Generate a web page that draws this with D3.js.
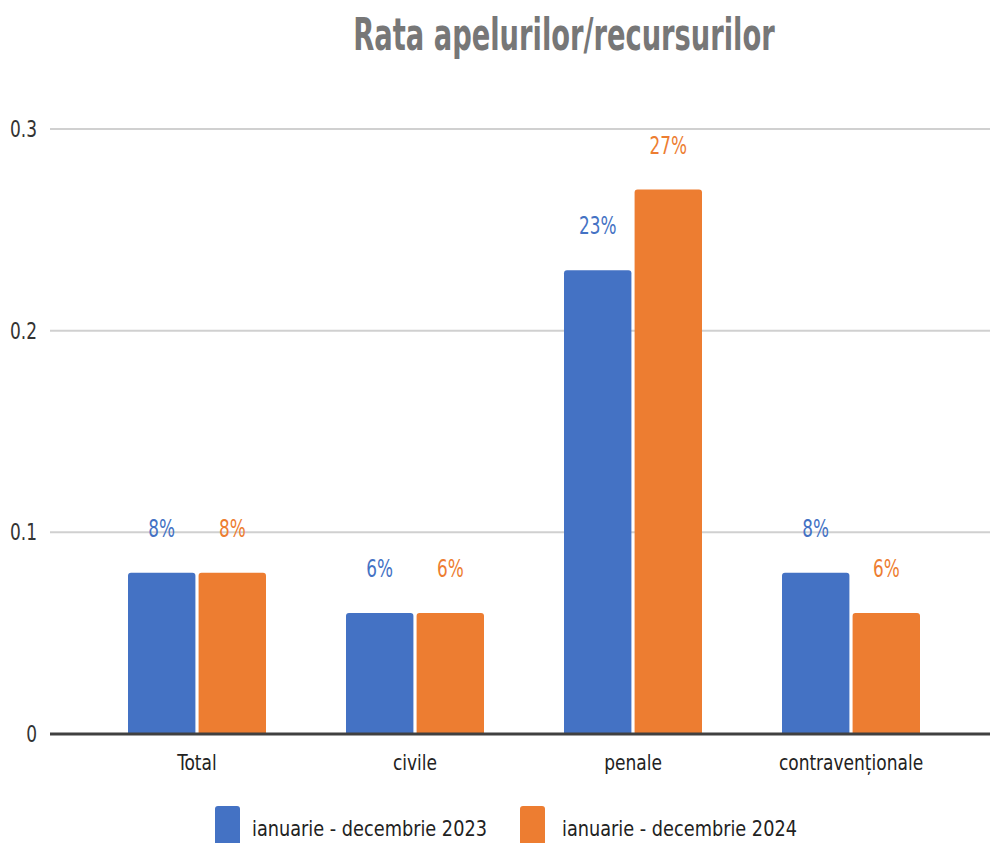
<!DOCTYPE html>
<html>
  <head>
    <title>Rata apelurilor/recursurilor</title>
    <script src="https://cdn.jsdelivr.net/npm/d3@7"></script>
    <style type="text/css">

html, body {
  margin: 0;
  background: #fff;
}

svg {
  display: block;
  font-family: "DejaVu Sans Condensed", "Liberation Sans Narrow", sans-serif;
  font-stretch: condensed;
}

.grid line {
  stroke: #d0d0d0;
  stroke-width: 2;
}

    </style>
  </head>
  <body>
    <script type="text/javascript">

var categories = ["Total", "civile", "penale", "contravenționale"];
var seriesNames = ["ianuarie - decembrie 2023", "ianuarie - decembrie 2024"];
var values2023 = [0.08, 0.06, 0.23, 0.08];
var values2024 = [0.08, 0.06, 0.27, 0.06];
var yTicks = [0, 0.1, 0.2, 0.3];
var colors = ["#4472c4", "#ed7d31"];

var width = 990, height = 843;

var svg = d3.select("body")
  .append("svg")
    .attr("width", width)
    .attr("height", height);

// narrow the glyphs, the original font is much narrower than DejaVu
function squeeze(sel, k) {
  sel.each(function() {
    var len = this.getComputedTextLength();
    d3.select(this)
        .attr("textLength", len * k)
        .attr("lengthAdjust", "spacingAndGlyphs");
  });
}

var x = d3.scaleBand()
    .domain(categories)
    .range([88, 960])
    .paddingInner(0.367)
    .paddingOuter(0.1835);

var x1 = d3.scaleBand()
    .domain([0, 1])
    .range([0, x.bandwidth()])
    .paddingInner(0.045);

var y = d3.scaleLinear()
    .domain([0, 0.3])
    .range([734, 129]);

// title
svg.append("text")
    .attr("x", 564)
    .attr("y", 50)
    .attr("text-anchor", "middle")
    .attr("fill", "#777")
    .style("font-size", "44px")
    .style("font-weight", "bold")
    .text("Rata apelurilor/recursurilor")
    .call(squeeze, 0.69);

// gridlines
svg.append("g")
    .attr("class", "grid")
  .selectAll("line")
    .data(yTicks.slice(1))
  .enter().append("line")
    .attr("x1", 50)
    .attr("x2", width)
    .attr("y1", function(d) { return y(d); })
    .attr("y2", function(d) { return y(d); });

// y tick labels
svg.append("g")
  .selectAll("text")
    .data(yTicks)
  .enter().append("text")
    .attr("x", 37)
    .attr("y", function(d) { return y(d) + 8; })
    .attr("text-anchor", "end")
    .attr("fill", "#333")
    .style("font-size", "23px")
    .text(function(d) { return d === 0 ? "0" : d3.format(".1f")(d); })
    .call(squeeze, 0.82);

// bars
var series = [values2023, values2024];

function topRounded(x0, y0, w, h, r) {
  return "M" + x0 + "," + (y0 + h) +
    "V" + (y0 + r) +
    "Q" + x0 + "," + y0 + " " + (x0 + r) + "," + y0 +
    "H" + (x0 + w - r) +
    "Q" + (x0 + w) + "," + y0 + " " + (x0 + w) + "," + (y0 + r) +
    "V" + (y0 + h) + "Z";
}

var groups = svg.append("g")
  .selectAll("g")
    .data(categories)
  .enter().append("g")
    .attr("transform", function(d) { return "translate(" + x(d) + ",0)"; });

groups.selectAll("path")
    .data(function(d, i) { return series.map(function(s, j) { return {s: j, v: s[i]}; }); })
  .enter().append("path")
    .attr("fill", function(d) { return colors[d.s]; })
    .attr("d", function(d) {
      return topRounded(x1(d.s), y(d.v), x1.bandwidth(), y(0) - y(d.v), 3);
    });

groups.selectAll("text")
    .data(function(d, i) { return series.map(function(s, j) { return {s: j, v: s[i]}; }); })
  .enter().append("text")
    .attr("x", function(d) { return x1(d.s) + x1.bandwidth() / 2; })
    .attr("y", function(d) { return y(d.v) - 36; })
    .attr("text-anchor", "middle")
    .attr("fill", function(d) { return colors[d.s]; })
    .style("font-size", "24px")
    .text(function(d) { return d3.format(".0%")(d.v); })
    .call(squeeze, 0.78);

// baseline
svg.append("line")
    .attr("x1", 50)
    .attr("x2", width)
    .attr("y1", y(0))
    .attr("y2", y(0))
    .attr("stroke", "#404040")
    .attr("stroke-width", 3);

// x labels
svg.append("g")
  .selectAll("text")
    .data(categories)
  .enter().append("text")
    .attr("x", function(d) { return x(d) + x.bandwidth() / 2; })
    .attr("y", 770)
    .attr("text-anchor", "middle")
    .attr("fill", "#222")
    .style("font-size", "22px")
    .text(function(d) { return d; })
    .call(squeeze, 0.86);

// legend
var legend = svg.append("g")
  .selectAll("g")
    .data(seriesNames)
  .enter().append("g")
    .attr("transform", function(d, i) { return "translate(" + (215 + i * 305) + ",806)"; });

legend.append("rect")
    .attr("width", 25)
    .attr("height", 40)
    .attr("rx", 3)
    .attr("fill", function(d, i) { return colors[i]; });

legend.append("text")
    .attr("x", function(d, i) { return i ? 42 : 37; })
    .attr("y", 30)
    .attr("fill", "#222")
    .style("font-size", "22px")
    .text(function(d) { return d; })
    .call(squeeze, 0.895);

    </script>
  </body>
</html>
